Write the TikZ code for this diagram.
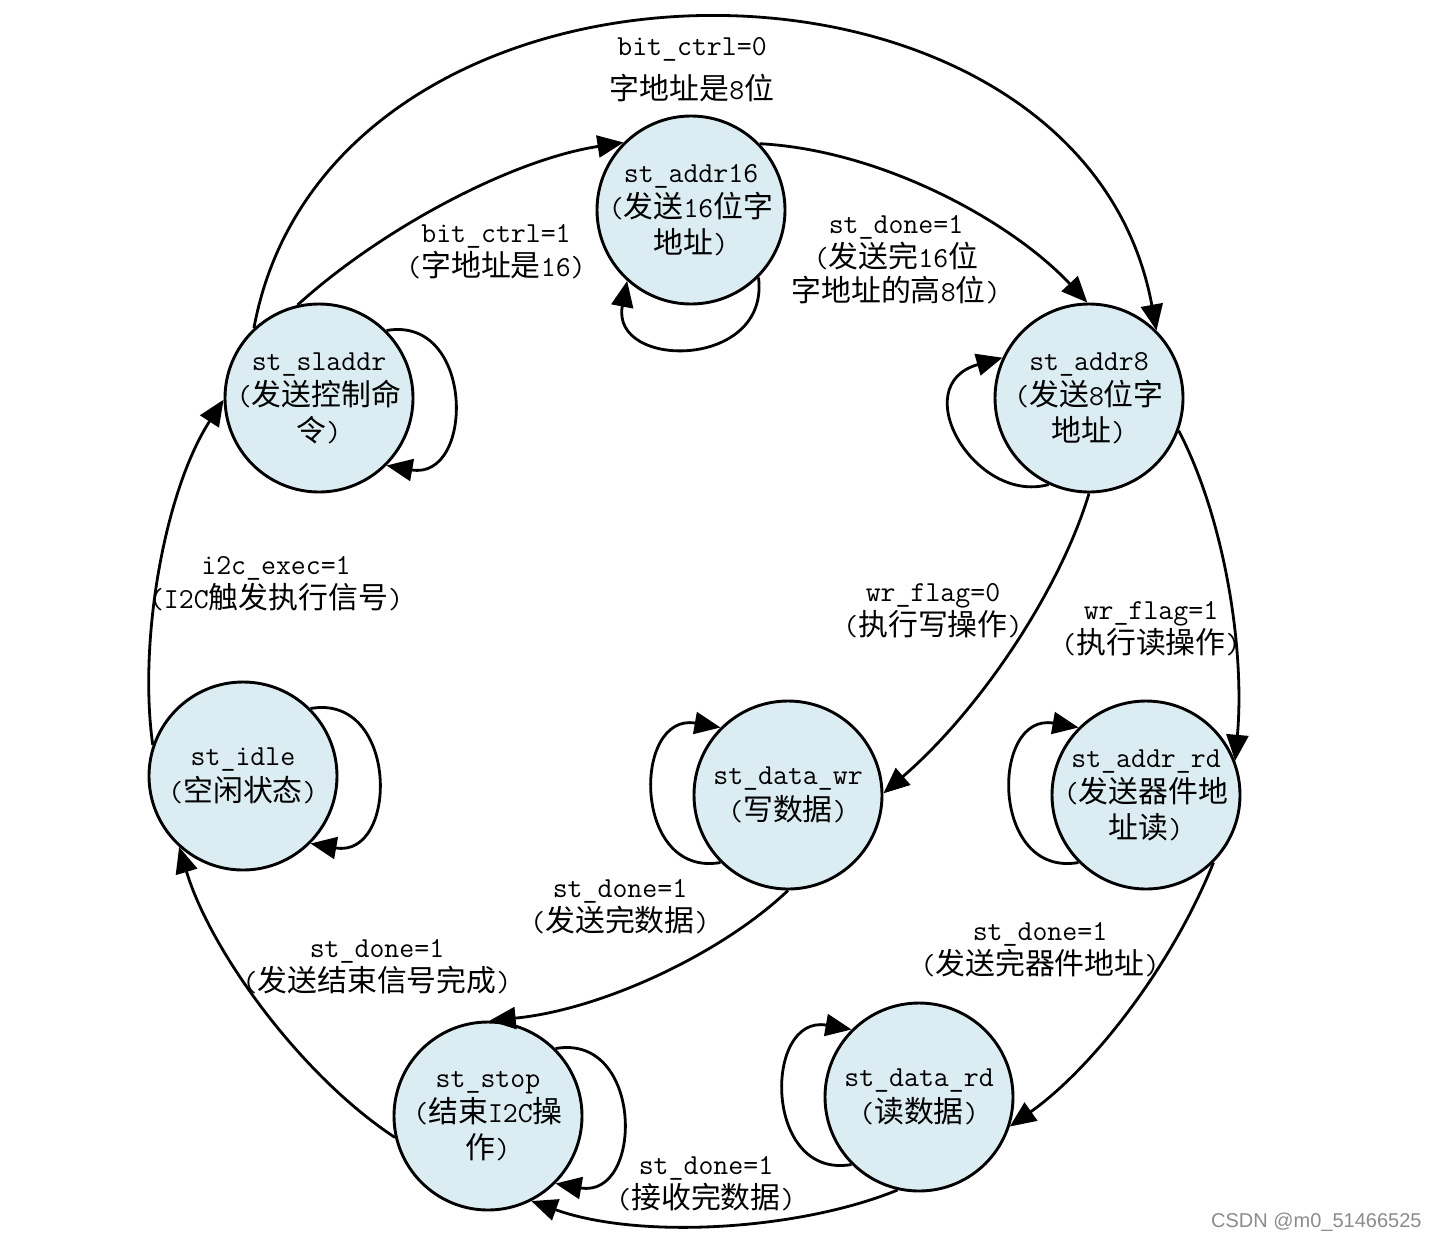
\documentclass[tikz,border=0pt]{standalone}
\usepackage{fontspec}
\newfontfamily\cjk{Noto Sans CJK SC}[Scale=1.03]
\newfontfamily\wmfont{Liberation Sans}
\usetikzlibrary{arrows.meta}
\definecolor{statefill}{RGB}{219,237,243}
\newcommand\zh[1]{{\cjk #1}}
\begin{document}
\begin{tikzpicture}[x=0.5pt,y=-0.5pt,
  state/.style={circle,draw=black,line width=1.45pt,fill=statefill,minimum size=94pt,inner sep=0pt,align=center,font=\fontsize{14.5}{17.75}\selectfont\ttfamily},
  lbl/.style={align=center,inner sep=1pt,font=\fontsize{14.5}{17}\selectfont\ttfamily},
  edge/.style={line width=1.4pt,-{Triangle[length=13pt,width=11pt]}}]
\fill[white] (0,0) rectangle (1438,1242);
\useasboundingbox (0,0) rectangle (1438,1242);

% states
\node[state] (addr16) at (691,210) {st\_addr16\\(\zh{发送}16\zh{位字}\\\zh{地址})};
\node[state] (sladdr) at (319,398) {st\_sladdr\\(\zh{发送控制命}\\\zh{令})};
\node[state] (addr8) at (1089,398) {st\_addr8\\(\zh{发送}8\zh{位字}\\\zh{地址})};
\node[state] (idle) at (243,776) {st\_idle\\(\zh{空闲状态})};
\node[state] (datawr) at (788,795) {st\_data\_wr\\(\zh{写数据})};
\node[state] (addrrd) at (1146,795) {st\_addr\_rd\\(\zh{发送器件地}\\\zh{址读})};
\node[state] (stop) at (488,1116) {st\_stop\\(\zh{结束}I2C\zh{操}\\\zh{作})};
\node[state] (datard) at (919,1097) {st\_data\_rd\\(\zh{读数据})};

% transitions
\draw[edge] (idle.161) .. controls (138,640) and (165,490) .. (sladdr.181);
\draw[edge] (sladdr.103) .. controls (380,230) and (510,160) .. (addr16.135);
\draw[edge] (sladdr.133) .. controls (330,-85) and (1080,-85) .. (addr8.45);
\draw[edge] (addr16.44) .. controls (880,150) and (1010,220) .. (addr8.91);
\draw[edge] (addr8.270) .. controls (1060,590) and (980,710) .. (datawr.1);
\draw[edge] (addr8.-20) .. controls (1225,520) and (1245,650) .. (addrrd.21);
\draw[edge] (datawr.270) .. controls (720,955) and (600,1010) .. (stop.89);
\draw[edge] (addrrd.-45) .. controls (1170,970) and (1090,1070) .. (datard.-18);
\draw[edge] (datard.-103) .. controls (800,1230) and (640,1240) .. (stop.-63);
\draw[edge] (stop.193) .. controls (300,1075) and (210,950) .. (idle.-132);

% self loops
\draw[edge] (addr16.-45) .. controls (770,370) and (610,370) .. (addr16.-132);
\draw[edge] (sladdr.45) .. controls (475,315) and (475,481) .. (sladdr.-45);
\draw[edge] (addr8.-115) .. controls (975,505) and (905,385) .. (addr8.155);
\draw[edge] (idle.45) .. controls (399,693) and (399,859) .. (idle.-45);
\draw[edge] (datawr.-135) .. controls (632,878) and (632,712) .. (datawr.135);
\draw[edge] (addrrd.-135) .. controls (990,878) and (990,712) .. (addrrd.135);
\draw[edge] (stop.45) .. controls (644,1033) and (644,1199) .. (stop.-45);
\draw[edge] (datard.-135) .. controls (763,1180) and (763,1014) .. (datard.135);

% labels
\node[lbl] (l1) at (692,70) {bit\_ctrl=0\\[5pt]\zh{字地址是}8\zh{位}};
\node[lbl] (l2) at (496,252) {bit\_ctrl=1\\(\zh{字地址是}16)};
\node[lbl] (l3) at (896,260) {st\_done=1\\(\zh{发送完}16\zh{位}\\\zh{字地址的高}8\zh{位})};
\node[lbl] (l4) at (933,611) {wr\_flag=0\\(\zh{执行写操作})};
\node[lbl] (l5) at (1151,629) {wr\_flag=1\\(\zh{执行读操作})};
\node[lbl] (l6) at (276,584) {i2c\_exec=1\\(I2C\zh{触发执行信号})};
\node[lbl] (l7) at (620,907) {st\_done=1\\(\zh{发送完数据})};
\node[lbl] (l8) at (1040,950) {st\_done=1\\(\zh{发送完器件地址})};
\node[lbl] (l9) at (377,967) {st\_done=1\\(\zh{发送结束信号完成})};
\node[lbl] (l10) at (706,1184) {st\_done=1\\(\zh{接收完数据})};

\node[text=black!45,font=\wmfont\fontsize{10}{12}\selectfont,anchor=east,inner sep=0pt] (wm) at (1422,1222) {CSDN @m0\_51466525};
\end{tikzpicture}
\end{document}
